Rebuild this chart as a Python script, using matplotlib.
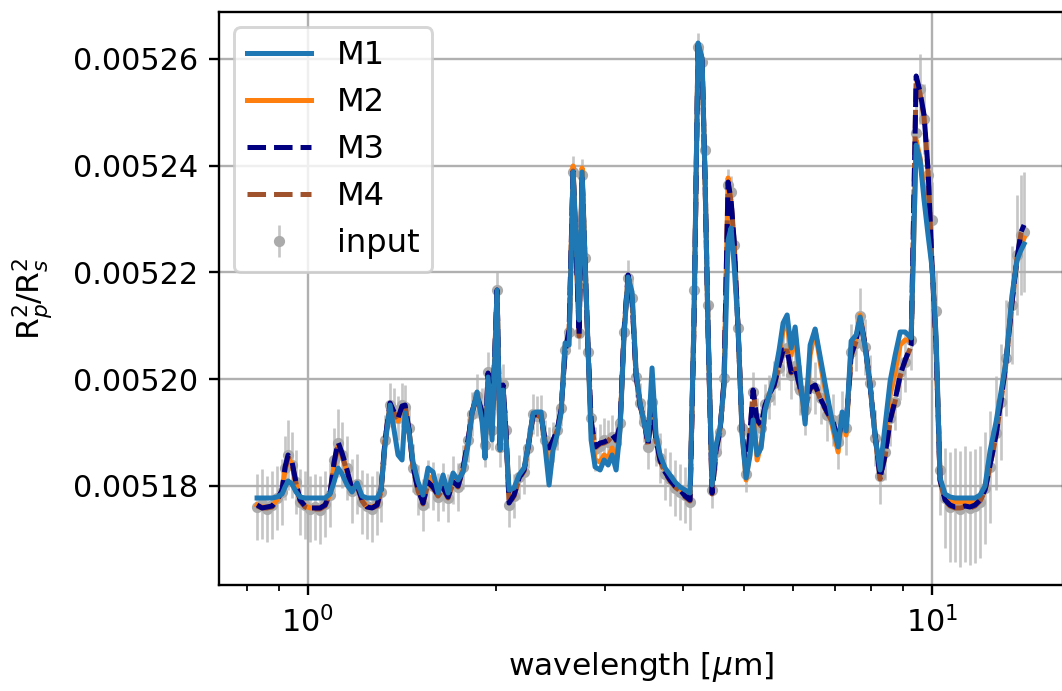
import numpy as np
import matplotlib
matplotlib.use("Agg")
import matplotlib.pyplot as plt
from matplotlib.ticker import FixedLocator, FormatStrFormatter

# wavelength grid [micron]
wavelength = [0.8294, 0.8448, 0.8606, 0.8766, 0.8929, 0.9095, 0.9197, 0.9299, 0.9437, 0.9578,
              0.9720, 0.9901, 1.0085, 1.0273, 1.0464, 1.0659, 1.0858, 1.1020, 1.1183, 1.1349,
              1.1561, 1.1776, 1.1996, 1.2219, 1.2446, 1.2677, 1.2913, 1.3105, 1.3301, 1.3548,
              1.3750, 1.3954, 1.4162, 1.4320, 1.4533, 1.4749, 1.5024, 1.5303, 1.5588, 1.5878,
              1.6174, 1.6475, 1.6782, 1.7094, 1.7412, 1.7737, 1.8067, 1.8336, 1.8677, 1.9025,
              1.9237, 1.9451, 1.9740, 2.0108, 2.0332, 2.0558, 2.0787, 2.1019, 2.1410, 2.1809,
              2.2215, 2.2546, 2.2966, 2.3307, 2.3654, 2.4006, 2.4363, 2.4726, 2.5093, 2.5467,
              2.5846, 2.6231, 2.6621, 2.6918, 2.7218, 2.7520, 2.7827, 2.8137, 2.8450, 2.8873,
              2.9411, 2.9848, 3.0293, 3.0744, 3.1201, 3.1658, 3.2129, 3.2607, 3.3092, 3.3585,
              3.4085, 3.4592, 3.5107, 3.5625, 3.6155, 3.6693, 3.7377, 3.8073, 3.8782, 3.9503,
              4.0238, 4.0988, 4.1597, 4.2217, 4.2845, 4.3322, 4.3805, 4.4456, 4.5118, 4.5790,
              4.6471, 4.7163, 4.7688, 4.8218, 4.8936, 4.9665, 5.0404, 5.1154, 5.1724, 5.2493,
              5.3275, 5.4068, 5.4873, 5.5895, 5.6935, 5.7782, 5.8643, 5.9516, 6.0402, 6.1526,
              6.2672, 6.3839, 6.5028, 6.6485, 6.7973, 6.9494, 7.0789, 7.1843, 7.2913, 7.4271,
              7.5655, 7.6781, 7.8211, 7.9638, 8.1151, 8.2634, 8.4202, 8.5770, 8.7367, 8.8994,
              9.0651, 9.2682, 9.4406, 9.5777, 9.7199, 9.8644, 10.011, 10.160, 10.311, 10.503,
              10.698, 10.898, 11.100, 11.307, 11.518, 11.732, 11.951, 12.173, 12.400, 12.677,
              12.913, 13.154, 13.448, 13.699, 13.903, 14.058]

# transit depths in ppm
m1_ppm = [5177.75, 5177.75, 5177.75, 5177.75, 5177.94, 5178.50, 5179.81, 5180.94, 5180.37, 5178.87,
          5177.94, 5177.75, 5177.75, 5177.75, 5177.75, 5177.75, 5178.50, 5180.75, 5183.37, 5182.25,
          5180.19, 5178.87, 5180.56, 5178.12, 5177.75, 5177.75, 5177.75, 5179.25, 5187.68, 5195.17,
          5190.49, 5185.81, 5184.87, 5193.67, 5190.12, 5184.49, 5180.75, 5178.31, 5183.37, 5182.62,
          5178.69, 5182.06, 5178.69, 5182.43, 5181.12, 5182.62, 5187.68, 5193.67, 5197.61, 5191.99,
          5185.24, 5200.42, 5188.62, 5216.72, 5186.74, 5197.98, 5188.62, 5179.25, 5179.62, 5182.06,
          5183.37, 5187.31, 5193.67, 5193.86, 5193.86, 5187.31, 5180.19, 5186.74, 5189.55, 5193.67,
          5206.79, 5206.41, 5238.83, 5226.09, 5211.10, 5238.83, 5222.34, 5205.48, 5188.62, 5183.56,
          5183.00, 5184.87, 5183.93, 5185.81, 5183.00, 5190.49, 5208.29, 5219.15, 5216.34, 5201.36,
          5195.55, 5191.80, 5188.62, 5202.11, 5189.55, 5185.81, 5183.37, 5182.06, 5180.75, 5179.81,
          5179.25, 5178.69, 5212.04, 5262.99, 5260.18, 5237.70, 5209.22, 5180.19, 5187.68, 5190.86,
          5198.92, 5226.09, 5228.33, 5221.40, 5209.79, 5189.55, 5181.50, 5185.81, 5192.36, 5185.81,
          5187.12, 5194.24, 5197.05, 5200.23, 5205.48, 5210.54, 5212.04, 5205.85, 5209.79, 5200.42,
          5191.61, 5206.41, 5209.41, 5203.23, 5197.05, 5191.24, 5187.31, 5193.86, 5190.30, 5207.16,
          5208.29, 5211.66, 5205.85, 5199.11, 5189.18, 5183.00, 5191.43, 5199.67, 5204.54, 5208.85,
          5208.85, 5207.73, 5243.88, 5241.07, 5233.58, 5227.02, 5220.84, 5208.29, 5181.50, 5178.50,
          5177.94, 5177.75, 5177.75, 5177.75, 5177.75, 5177.75, 5178.31, 5180.00, 5186.56, 5191.99,
          5197.61, 5203.42, 5215.78, 5222.34, 5224.21, 5225.34]

m2_ppm = [5176.44, 5176.06, 5176.06, 5176.25, 5177.38, 5179.06, 5183.00, 5185.24, 5184.12, 5180.37,
          5177.38, 5176.25, 5175.88, 5175.88, 5175.88, 5176.44, 5178.50, 5183.93, 5187.49, 5185.81,
          5182.62, 5179.25, 5180.19, 5177.38, 5176.06, 5176.06, 5176.44, 5179.25, 5188.24, 5195.36,
          5193.49, 5192.18, 5194.24, 5194.80, 5190.30, 5183.75, 5179.44, 5177.00, 5181.87, 5181.12,
          5178.50, 5180.75, 5178.31, 5181.50, 5180.56, 5183.00, 5188.24, 5193.86, 5197.42, 5192.74,
          5186.37, 5200.79, 5189.55, 5216.72, 5186.74, 5198.36, 5189.37, 5178.50, 5178.87, 5181.68,
          5183.18, 5187.31, 5193.49, 5193.67, 5193.49, 5187.68, 5183.00, 5187.49, 5190.12, 5193.86,
          5206.23, 5207.73, 5239.95, 5225.15, 5209.60, 5239.58, 5221.96, 5205.48, 5190.49, 5184.87,
          5184.49, 5185.81, 5185.24, 5187.12, 5184.49, 5190.86, 5208.66, 5219.34, 5215.59, 5201.17,
          5195.36, 5191.99, 5188.24, 5198.92, 5188.99, 5185.43, 5183.00, 5181.68, 5180.37, 5179.44,
          5178.69, 5178.12, 5211.47, 5262.81, 5260.00, 5237.51, 5209.22, 5179.62, 5187.31, 5190.68,
          5199.48, 5237.70, 5232.64, 5225.15, 5209.60, 5190.12, 5181.12, 5187.12, 5194.24, 5184.87,
          5187.68, 5194.61, 5197.05, 5199.86, 5204.54, 5209.22, 5210.72, 5204.54, 5208.66, 5199.30,
          5192.36, 5204.54, 5209.22, 5202.11, 5196.11, 5190.49, 5186.37, 5193.30, 5189.55, 5205.85,
          5207.73, 5212.04, 5206.23, 5199.11, 5189.37, 5182.25, 5188.62, 5197.05, 5201.36, 5206.41,
          5207.35, 5207.35, 5244.82, 5241.45, 5235.45, 5228.90, 5221.22, 5207.35, 5181.31, 5177.94,
          5177.19, 5177.00, 5177.00, 5177.00, 5177.00, 5177.19, 5177.75, 5179.62, 5185.24, 5190.86,
          5196.86, 5203.42, 5215.22, 5222.71, 5225.15, 5226.46]

m3_ppm = [5176.44, 5175.88, 5176.06, 5176.25, 5177.38, 5179.25, 5183.56, 5185.81, 5184.49, 5180.56,
          5177.38, 5176.25, 5175.88, 5175.88, 5175.88, 5176.44, 5178.69, 5184.49, 5188.24, 5186.18,
          5183.00, 5179.25, 5180.19, 5177.38, 5176.06, 5175.88, 5176.44, 5179.25, 5188.62, 5195.55,
          5193.86, 5192.74, 5194.99, 5195.17, 5190.49, 5183.56, 5179.25, 5176.81, 5180.75, 5179.81,
          5178.31, 5179.62, 5177.94, 5180.75, 5180.00, 5183.37, 5188.62, 5193.86, 5197.05, 5193.86,
          5188.24, 5201.17, 5190.86, 5216.72, 5187.68, 5198.92, 5190.12, 5176.81, 5178.31, 5181.50,
          5183.00, 5187.31, 5193.30, 5193.49, 5193.11, 5188.62, 5187.12, 5188.62, 5190.49, 5194.24,
          5205.10, 5209.22, 5239.20, 5224.21, 5208.29, 5238.08, 5221.96, 5205.48, 5192.36, 5187.31,
          5188.05, 5188.24, 5188.62, 5189.55, 5188.62, 5191.43, 5209.22, 5219.53, 5214.85, 5200.79,
          5195.17, 5192.36, 5187.68, 5195.17, 5188.62, 5184.87, 5182.62, 5181.12, 5180.00, 5179.25,
          5178.12, 5177.38, 5211.10, 5262.62, 5259.81, 5237.33, 5209.22, 5178.69, 5186.74, 5190.49,
          5199.86, 5236.95, 5233.58, 5226.09, 5209.22, 5190.49, 5182.62, 5190.49, 5197.98, 5192.36,
          5191.43, 5195.17, 5197.05, 5198.92, 5202.67, 5205.48, 5205.48, 5201.36, 5202.11, 5198.36,
          5194.61, 5198.36, 5198.92, 5196.11, 5193.86, 5191.99, 5188.62, 5192.36, 5191.43, 5204.54,
          5207.35, 5211.47, 5206.41, 5198.92, 5189.55, 5181.50, 5185.81, 5192.36, 5196.11, 5200.79,
          5203.60, 5206.41, 5256.81, 5253.81, 5249.51, 5239.20, 5221.40, 5206.41, 5181.12, 5177.38,
          5176.44, 5176.06, 5176.06, 5176.25, 5176.06, 5176.44, 5177.38, 5179.25, 5183.93, 5189.55,
          5196.11, 5203.23, 5214.47, 5222.71, 5227.59, 5228.90]

m4_ppm = [5176.25, 5175.88, 5175.88, 5176.06, 5177.19, 5179.06, 5183.18, 5185.43, 5184.12, 5180.37,
          5177.19, 5176.06, 5175.69, 5175.69, 5175.69, 5176.25, 5178.50, 5184.12, 5187.87, 5185.81,
          5182.62, 5179.25, 5180.00, 5177.19, 5175.88, 5175.88, 5176.25, 5179.06, 5188.43, 5195.36,
          5193.67, 5192.55, 5194.80, 5194.99, 5190.30, 5183.37, 5179.06, 5176.63, 5180.56, 5179.62,
          5178.12, 5179.44, 5177.75, 5180.56, 5179.81, 5183.18, 5188.43, 5193.67, 5196.86, 5193.67,
          5188.05, 5200.98, 5190.68, 5216.53, 5187.49, 5198.73, 5189.93, 5176.63, 5178.12, 5181.31,
          5182.81, 5187.12, 5193.11, 5193.30, 5192.93, 5188.43, 5186.93, 5188.43, 5190.30, 5194.05,
          5204.92, 5209.04, 5239.01, 5224.21, 5208.10, 5238.08, 5221.78, 5205.29, 5192.18, 5187.12,
          5187.87, 5188.05, 5188.43, 5189.37, 5188.43, 5191.24, 5209.04, 5219.34, 5214.66, 5200.61,
          5194.99, 5192.18, 5187.49, 5194.99, 5188.43, 5184.68, 5182.43, 5180.94, 5179.81, 5179.06,
          5177.94, 5177.19, 5210.91, 5262.43, 5259.62, 5237.14, 5209.04, 5178.50, 5186.56, 5190.30,
          5199.67, 5236.58, 5233.39, 5225.90, 5209.04, 5190.30, 5182.43, 5190.30, 5197.80, 5192.18,
          5191.24, 5194.99, 5196.86, 5198.73, 5202.48, 5205.29, 5205.29, 5201.17, 5201.92, 5198.17,
          5194.42, 5198.17, 5198.73, 5195.92, 5193.67, 5191.80, 5188.43, 5192.18, 5191.24, 5204.35,
          5207.16, 5211.29, 5206.23, 5198.73, 5189.37, 5181.31, 5185.62, 5192.18, 5195.92, 5200.61,
          5203.42, 5206.23, 5256.44, 5253.44, 5249.13, 5238.83, 5221.22, 5206.23, 5180.94, 5177.19,
          5176.25, 5175.88, 5175.88, 5176.06, 5175.88, 5176.25, 5177.19, 5179.06, 5183.75, 5189.37,
          5195.92, 5203.04, 5214.28, 5222.53, 5227.40, 5228.71]

input_ppm = [5176.06, 5176.63, 5175.69, 5176.44, 5177.75, 5178.87, 5183.37, 5185.81, 5183.93, 5180.75,
             5177.00, 5176.44, 5175.69, 5176.06, 5175.50, 5176.63, 5178.31, 5184.87, 5188.05, 5185.81,
             5183.37, 5179.06, 5180.37, 5177.00, 5176.25, 5175.69, 5176.81, 5178.87, 5188.62, 5195.17,
             5194.24, 5192.74, 5195.17, 5194.80, 5190.86, 5183.37, 5179.25, 5176.44, 5180.37, 5180.00,
             5177.94, 5179.81, 5177.75, 5181.12, 5179.81, 5183.56, 5188.62, 5193.49, 5196.86, 5194.24,
             5187.68, 5201.36, 5190.49, 5216.72, 5187.31, 5199.11, 5190.49, 5176.44, 5178.12, 5181.68,
             5182.62, 5187.12, 5193.49, 5193.11, 5193.30, 5188.62, 5187.31, 5188.24, 5190.49, 5194.61,
             5205.48, 5208.85, 5238.83, 5223.28, 5208.66, 5238.26, 5222.71, 5205.10, 5192.74, 5186.93,
             5187.49, 5188.62, 5188.24, 5189.18, 5188.05, 5191.80, 5208.85, 5218.97, 5215.22, 5200.42,
             5195.55, 5191.99, 5187.31, 5195.74, 5188.24, 5185.24, 5182.25, 5181.31, 5179.62, 5178.87,
             5178.31, 5177.00, 5216.72, 5262.25, 5259.43, 5242.95, 5213.91, 5179.25, 5186.37, 5190.12,
             5200.23, 5236.39, 5235.08, 5225.15, 5209.60, 5190.86, 5182.25, 5189.93, 5197.61, 5192.74,
             5190.86, 5195.36, 5196.67, 5199.30, 5202.11, 5205.10, 5205.85, 5200.79, 5202.48, 5197.98,
             5194.24, 5198.92, 5198.36, 5196.49, 5193.30, 5192.36, 5188.24, 5192.74, 5190.86, 5205.10,
             5206.79, 5211.85, 5206.04, 5199.30, 5188.99, 5181.87, 5186.37, 5192.74, 5195.74, 5201.36,
             5203.23, 5207.35, 5246.13, 5254.38, 5248.76, 5238.26, 5229.83, 5212.78, 5183.00, 5177.75,
             5176.06, 5176.44, 5175.69, 5176.63, 5175.88, 5176.25, 5177.00, 5179.62, 5183.56, 5189.93,
             5195.74, 5203.98, 5213.91, 5223.28, 5227.02, 5227.59]

input_err_ppm = [6.18, 6.56, 6.18, 6.37, 6.00, 6.18, 6.00, 6.56, 6.18, 6.00,
                 6.18, 6.37, 6.18, 6.18, 6.37, 6.18, 6.00, 6.00, 6.37, 6.18,
                 6.00, 6.00, 5.62, 6.00, 6.18, 6.18, 6.00, 5.62, 4.68, 4.12,
                 4.12, 4.12, 4.12, 4.12, 4.12, 4.50, 4.68, 4.87, 4.50, 4.50,
                 4.50, 4.50, 4.50, 4.50, 4.50, 4.12, 4.12, 4.12, 4.12, 4.12,
                 4.12, 3.75, 3.75, 3.37, 3.75, 3.75, 3.75, 4.12, 4.12, 4.12,
                 4.12, 3.75, 3.75, 3.75, 3.75, 3.75, 3.75, 3.75, 3.75, 3.37,
                 3.00, 3.00, 3.00, 3.00, 3.00, 3.00, 3.00, 3.37, 3.75, 4.12,
                 4.12, 4.12, 4.12, 4.12, 4.12, 3.75, 3.37, 3.37, 3.37, 3.75,
                 3.75, 3.75, 4.12, 4.12, 4.50, 4.68, 4.87, 5.06, 5.25, 5.25,
                 5.25, 5.25, 3.37, 2.62, 2.62, 2.81, 3.00, 3.37, 3.37, 3.37,
                 3.18, 3.00, 3.00, 3.00, 3.18, 3.37, 3.37, 3.75, 3.75, 3.75,
                 3.75, 3.75, 4.12, 4.12, 4.12, 4.50, 4.50, 4.50, 4.50, 4.68,
                 4.68, 4.68, 4.87, 4.87, 4.87, 4.87, 5.06, 5.06, 5.06, 5.25,
                 5.25, 5.25, 5.25, 5.25, 5.25, 5.25, 5.25, 5.25, 5.25, 5.25,
                 5.62, 5.62, 6.37, 6.56, 6.56, 6.74, 7.12, 7.49, 8.43, 9.37,
                 10.30, 10.68, 10.87, 10.87, 10.68, 10.68, 10.49, 10.49, 10.49, 10.68,
                 10.87, 10.87, 11.05, 11.24, 11.24, 11.24]

series_labels = ["M1", "M2", "M3", "M4", "input"]
y_ticks = [0.00518, 0.00520, 0.00522, 0.00524, 0.00526]

PPM = 1e-6
wl = np.array(wavelength)

DPI = 212
plt.rcParams['font.size'] = 10.3
fig = plt.figure(figsize=(1062 / DPI, 691 / DPI), dpi=DPI)
ax = fig.add_axes([219 / 1062, 106 / 691, (1063 - 219) / 1062, 573 / 691])

ax.errorbar(wl, np.array(input_ppm) * PPM, yerr=np.array(input_err_ppm) * PPM,
            fmt='o', ms=2.8, color='#ababab', ecolor='#c6c6c6', elinewidth=0.9,
            label=series_labels[4], zorder=1.5)
ax.plot(wl, np.array(m1_ppm) * PPM, color='#1f77b4', lw=1.7, label=series_labels[0], zorder=2.6)
ax.plot(wl, np.array(m2_ppm) * PPM, color='#ff7f0e', lw=1.7, label=series_labels[1], zorder=2.0)
ax.plot(wl, np.array(m3_ppm) * PPM, color='navy', ls='--', lw=1.7, label=series_labels[2], zorder=2.4)
ax.plot(wl, np.array(m4_ppm) * PPM, color='sienna', ls='--', lw=1.7, label=series_labels[3], zorder=2.2)

ax.set_xscale('log')
ax.set_xlim(0.7207, 16.23)
ax.set_ylim(0.00516145, 0.00526880)
ax.yaxis.set_major_locator(FixedLocator(y_ticks))
ax.yaxis.set_major_formatter(FormatStrFormatter('%.5f'))
ax.grid(True)
ax.set_xlabel(r'wavelength [$\mu$m]', fontsize=10.6)
ax.set_ylabel(r'R$_p^2$/R$_s^2$', fontsize=10.6, labelpad=6)

handles, labels = ax.get_legend_handles_labels()
order = [labels.index(l) for l in series_labels]
ax.legend([handles[i] for i in order], [labels[i] for i in order], loc='upper left',
          prop={'size': 10.9}, borderaxespad=0.47)

fig.savefig('out.png', dpi=DPI)
